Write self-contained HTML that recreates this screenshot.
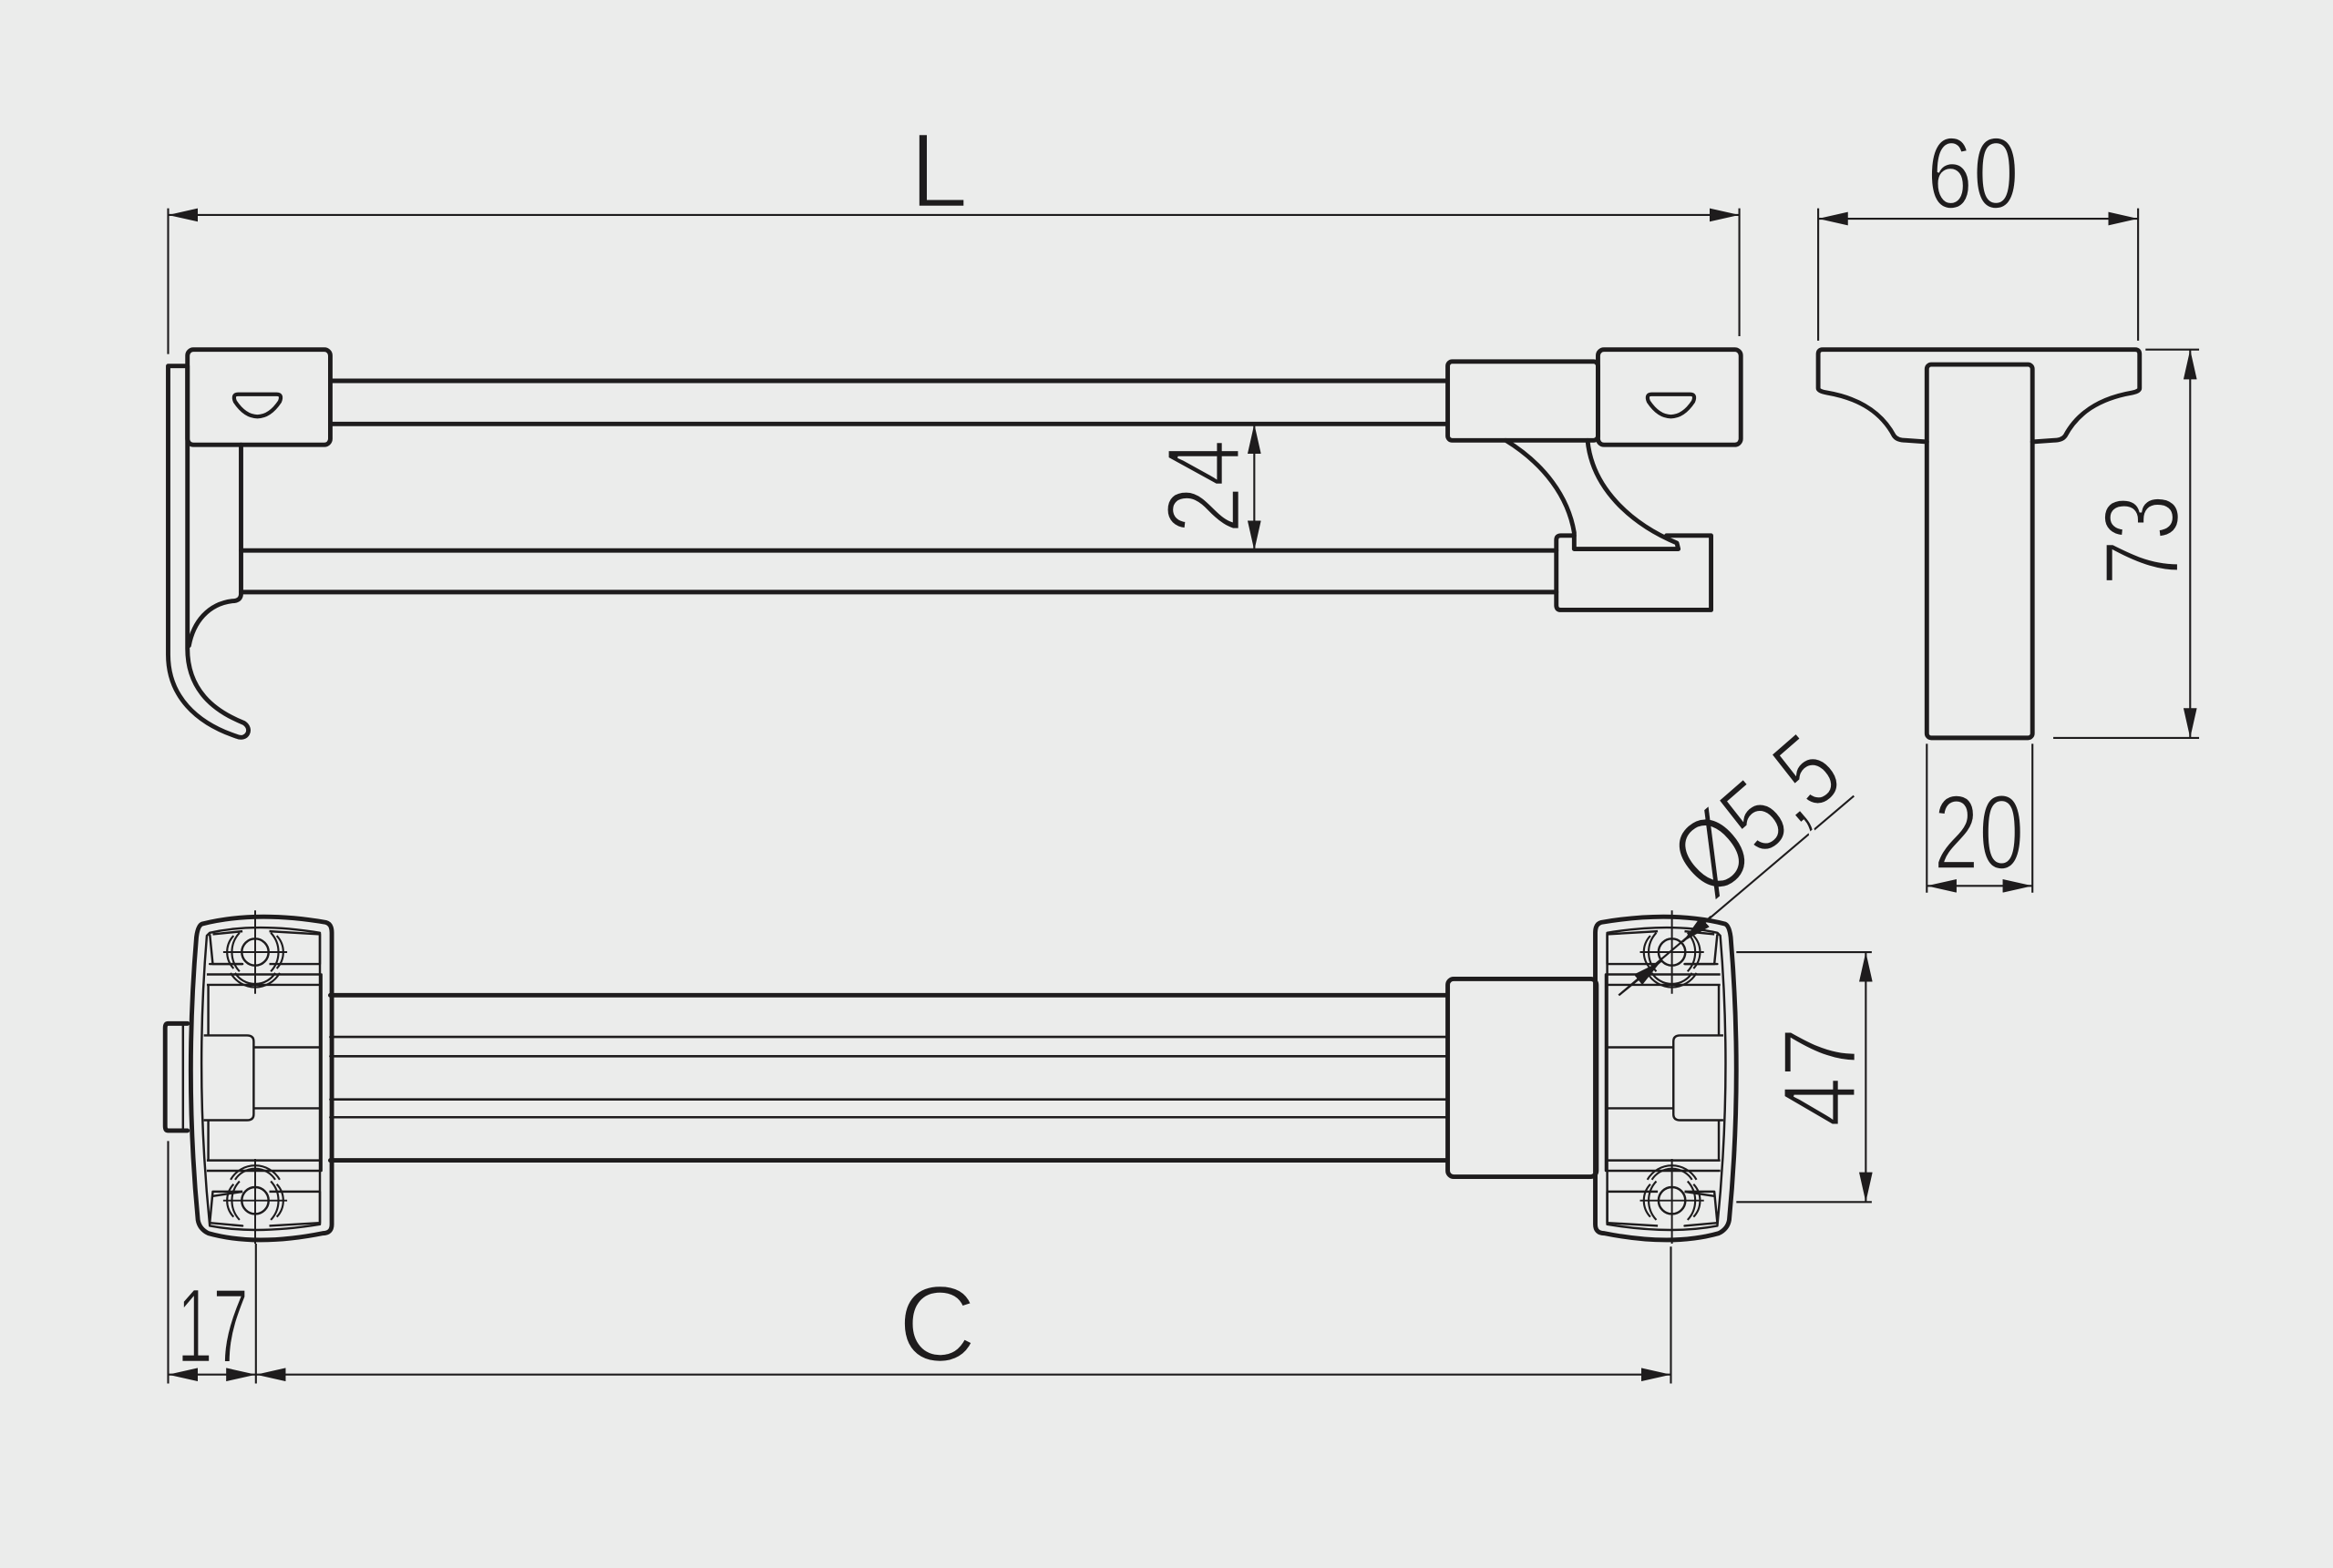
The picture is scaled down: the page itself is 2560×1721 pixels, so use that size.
<!DOCTYPE html>
<html><head><meta charset="utf-8"><style>
html,body{margin:0;padding:0;background:#ebeceb;}
svg{display:block;}
text{font-family:"Liberation Sans Narrow","Liberation Sans",sans-serif;fill:#1e1c1d;stroke:#ebeceb;stroke-width:1.6px;paint-order:normal;}
</style></head><body>
<svg width="2560" height="1721" viewBox="0 0 1568 1054" preserveAspectRatio="none" xmlns="http://www.w3.org/2000/svg">
<defs>
<marker id="a" viewBox="-20 -4.5 20 9" refX="0" refY="0" markerWidth="20" markerHeight="9" markerUnits="userSpaceOnUse" orient="auto-start-reverse">
<path d="M0,0 L-20,-4.5 L-20,4.5 Z" fill="#1e1c1d"/>
</marker>
<g id="br" fill="none" stroke="#1e1c1d" stroke-linejoin="round">
<path d="M136,621 Q172,612 219,620 Q223,621 223,627 V823 Q223,829 217,829 Q172,838 140,829 Q134,826 133,820 Q124,725 132,630 Q133,622 136,621 Z" stroke-width="3"/>
<path d="M141,627 Q172,620 215,627 V823 Q172,830 141,824 Q131,725 139,629 Z" stroke-width="1.5"/>
<path d="M143,628 L163,626 M181,626 L215,628 V648 H181 M163,648 H141 Z" stroke-width="1.5"/>
<path d="M143,804 L163,801 M181,801 H215 V822 L181,824 M163,824 L141,822 Z" stroke-width="1.5"/>
<path d="M141,628 L143,648 H163 M141,822 L143,801 H163" stroke-width="1.5"/>
<circle cx="171.5" cy="640" r="9" stroke-width="1.5"/>
<circle cx="171.5" cy="807" r="9" stroke-width="1.5"/>
<path d="M157,629 A16,16 0 0 0 157,651 M161,627 A19,19 0 0 0 161,653 M186,629 A16,16 0 0 1 186,651 M182,627 A19,19 0 0 1 182,653" stroke-width="1.3"/>
<path d="M157,796 A16,16 0 0 0 157,818 M161,794 A19,19 0 0 0 161,820 M186,796 A16,16 0 0 1 186,818 M182,794 A19,19 0 0 1 182,820" stroke-width="1.3"/>
<path d="M158,654 A16,16 0 0 0 185,654 M155,654 A19,19 0 0 0 188,654" stroke-width="1.3"/>
<path d="M158,793 A16,16 0 0 1 185,793 M155,793 A19,19 0 0 1 188,793" stroke-width="1.3"/>
<path d="M171.5,612 V668 M150,640 H193 M171.5,640 H180 M171.5,779 V836 M150,807 H193 M171.5,807 H180" stroke-width="1.2"/>
<path d="M139,655 H216 V787 H139 M139,662 H216 M139,780 H216 M140,662 V696 M140,753 V780" stroke-width="1.5"/>
<path d="M137,696 H166 Q170.5,696 170.5,700 V749 Q170.5,753 166,753 H137" stroke-width="1.5"/>
<path d="M170.5,704 H216 M170.5,745 H216" stroke-width="1.5"/>
</g>
</defs>
<rect width="1568" height="1054" fill="#ebeceb"/>

<g fill="none" stroke="#1e1c1d" stroke-width="3" stroke-linejoin="round" stroke-linecap="round">
<path d="M222,256 H973 M222,285 H973"/>
<path d="M162,370 H1046 M162,398 H1046"/>
<path d="M126,246 H113 V440 C113,468 132,486 159,495 C166,498 170,490 164,486 C144,478 126,464 126,436 V246"/>
<path d="M162,299 V399 Q162,404 156,404 C140,406 130,418 127,434"/>
<rect x="126" y="235" width="96" height="64" rx="4"/>
<rect x="973" y="243" width="101" height="53" rx="3"/>
<rect x="1074" y="235" width="96" height="64" rx="4"/>
<path d="M160,265 H186 Q190,265 188,270 C184,276 179,280 173,280 C167,280 162,276 158,270 Q156,265 160,265 Z" stroke-width="2.6"/>
<path d="M1110,265 H1136 Q1140,265 1138,270 C1134,276 1129,280 1123,280 C1117,280 1112,276 1108,270 Q1106,265 1110,265 Z" stroke-width="2.6"/>
<path d="M1012,296 C1038,312 1054,334 1058,358 V369 H1128 L1127,365 C1096,352 1070,328 1067,296"/>
<path d="M1058,360 H1049 Q1046,360 1046,363 V407 Q1046,410 1049,410 H1150 V360 H1120"/>
<path d="M1295,297 L1281,296 Q1275,296 1273,293 C1265,278 1251,268 1228,264 Q1222,263 1222,261 V238 Q1222,235 1225,235 H1435 Q1438,235 1438,238 V261 Q1438,263 1433,264 C1410,268 1396,278 1388,293 Q1386,296 1380,296 L1366,297"/>
<rect x="1295" y="245" width="71" height="251" rx="3"/>
<path d="M222,669 H973 M222,780 H973"/>
<path d="M222,697 H973 M222,710 H973 M222,739 H973 M222,751 H973" stroke-width="1.6"/>
<rect x="973" y="658" width="100" height="133" rx="4"/>
<path d="M126,688 H113 Q111,688 111,691 V757 Q111,760 113,760 H126" />
<path d="M123,688 V760" stroke-width="1.5"/>
</g>
<use href="#br"/>
<use href="#br" transform="translate(1295.2,0) scale(-1,1)"/>

<g fill="none" stroke="#1e1c1d" stroke-width="1.3">
<path d="M113,140 V238 M1169,140 V226"/>
<line x1="113" y1="144.5" x2="1169" y2="144.5" marker-start="url(#a)" marker-end="url(#a)"/>
<line x1="843" y1="285" x2="843" y2="370" marker-start="url(#a)" marker-end="url(#a)"/>
<path d="M1222,140 V229 M1437,140 V229"/>
<line x1="1222" y1="147" x2="1437" y2="147" marker-start="url(#a)" marker-end="url(#a)"/>
<path d="M1442,235 H1478 M1380,496 H1478"/>
<line x1="1472" y1="235" x2="1472" y2="496" marker-start="url(#a)" marker-end="url(#a)"/>
<path d="M1295,500 V600 M1366,500 V600"/>
<line x1="1295" y1="595.5" x2="1366" y2="595.5" marker-start="url(#a)" marker-end="url(#a)"/>
<path d="M1167,640 H1258 M1167,808 H1258"/>
<line x1="1254" y1="640" x2="1254" y2="808" marker-start="url(#a)" marker-end="url(#a)"/>
<path d="M113,767 V930 M172,836 V930 M1123,838 V930"/>
<line x1="113" y1="924" x2="172" y2="924" marker-start="url(#a)" marker-end="url(#a)"/>
<line x1="172" y1="924" x2="1123" y2="924" marker-start="url(#a)" marker-end="url(#a)"/>
<line x1="1088" y1="669" x2="1246" y2="535"/>
<line x1="1088" y1="669" x2="1116.5" y2="646" marker-end="url(#a)"/>
<line x1="1150" y1="616" x2="1131" y2="633" marker-end="url(#a)"/>
</g>

<text x="631" y="139" font-size="71" text-anchor="middle">L</text>
<text x="1326" y="140" font-size="68" text-anchor="middle" textLength="62" lengthAdjust="spacingAndGlyphs">60</text>
<text x="1330" y="584" font-size="71" text-anchor="middle" textLength="61" lengthAdjust="spacingAndGlyphs">20</text>
<text x="143" y="915.5" font-size="71" text-anchor="middle" textLength="48" lengthAdjust="spacingAndGlyphs">17</text>
<text x="630" y="915" font-size="73" text-anchor="middle">C</text>
<text transform="translate(1464,363) rotate(-90)" font-size="71" text-anchor="middle" textLength="61" lengthAdjust="spacingAndGlyphs">73</text>
<text transform="translate(1247,724) rotate(-90)" font-size="70" text-anchor="middle" textLength="67" lengthAdjust="spacingAndGlyphs">47</text>
<text transform="translate(833,327) rotate(-90)" font-size="70" text-anchor="middle" textLength="63" lengthAdjust="spacingAndGlyphs">24</text>
<text transform="translate(1196,566) rotate(-41)" font-size="70" text-anchor="middle" textLength="122" lengthAdjust="spacingAndGlyphs">Ø5,5</text>
</svg>
</body></html>
